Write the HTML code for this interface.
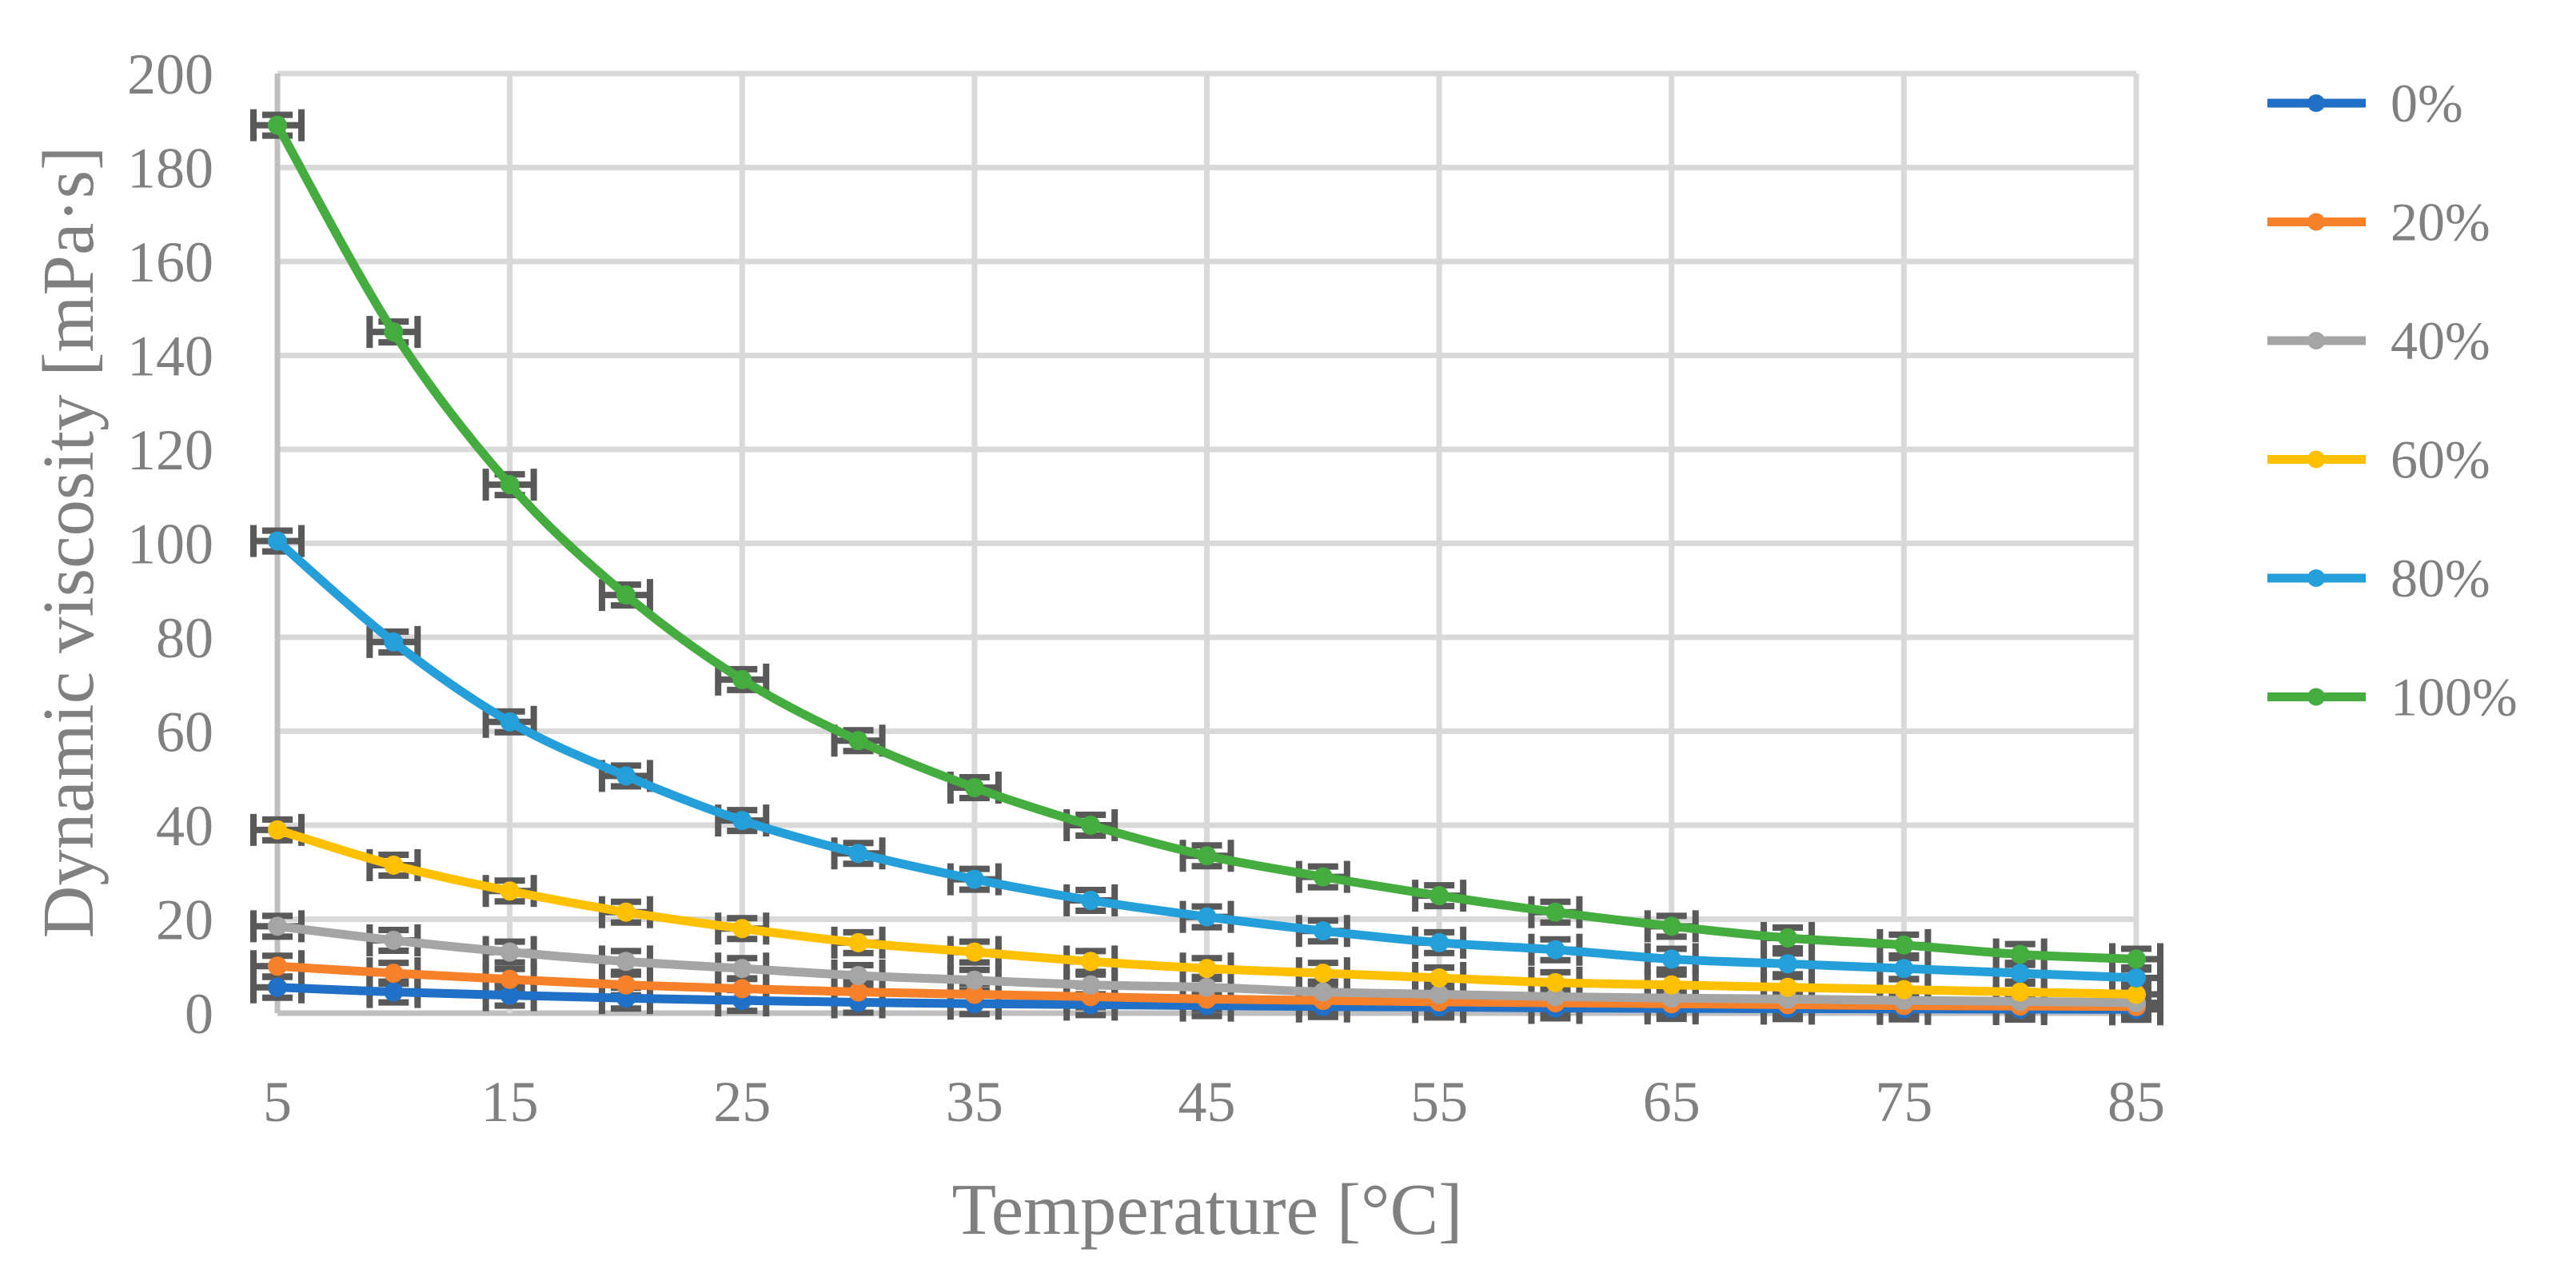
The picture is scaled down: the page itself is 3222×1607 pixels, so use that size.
<!DOCTYPE html>
<html><head><meta charset="utf-8"><style>
html,body{margin:0;padding:0;background:#fff;}
svg text{font-family:"Liberation Serif",serif;fill:#808080;}
</style></head><body>
<svg id="chart" width="3222" height="1602" viewBox="0 0 3222 1602" xmlns="http://www.w3.org/2000/svg">
<g id="grid"></g>
<g id="axes"></g>
<g id="series"></g>
<g id="legend"></g>
<text x="0" y="0" font-size="91" text-anchor="middle" transform="translate(116,678) rotate(-90)">Dynamic viscosity [mPa·s]</text>
<text x="1510" y="1543" font-size="91" text-anchor="middle">Temperature [°C]</text>
</svg>
<script>
const temps=[5,10,15,20,25,30,35,40,45,50,55,60,65,70,75,80,85];
const xTicks=[5,15,25,35,45,55,65,75,85];
const yTicks=[0,20,40,60,80,100,120,140,160,180,200];
const seriesNames=["0%","20%","40%","60%","80%","100%"];
const seriesColors=["#1f70c6","#f7802a","#a5a5a5","#ffc000","#249fd9","#45ad3f"];
const s0=[5.5,4.5,3.8,3.2,2.7,2.3,2,1.8,1.6,1.4,1.3,1.1,1,0.95,0.9,0.85,0.8];
const s20=[10,8.5,7.2,6,5.2,4.5,4,3.5,3,2.7,2.4,2.2,2,1.8,1.6,1.5,1.4];
const s40=[18.5,15.5,13,11,9.5,8,7,6,5.5,4.5,4,3.5,3.2,3,2.7,2.5,2.2];
const s60=[39,31.5,26,21.5,18,15,13,11,9.5,8.5,7.5,6.5,6,5.5,5,4.5,4];
const s80=[100.5,79,62,50.5,41,34,28.5,24,20.5,17.5,15,13.5,11.5,10.5,9.5,8.5,7.5];
const s100=[189,145,112.5,89,71,58,48,40,33.5,29,25,21.5,18.5,16,14.5,12.5,11.5];
const allSeries=[s0,s20,s40,s60,s80,s100];

const NS="http://www.w3.org/2000/svg";
const X0=347,X1=2672,Y0=1267,Y1=92;
const xs=v=>X0+(v-5)/80*(X1-X0);
const ys=v=>Y0-v/200*(Y0-Y1);
function mk(tag,attrs,parent){const e=document.createElementNS(NS,tag);for(const k in attrs)e.setAttribute(k,attrs[k]);parent.appendChild(e);return e;}
const grid=document.getElementById('grid'),axes=document.getElementById('axes'),ser=document.getElementById('series'),leg=document.getElementById('legend');
yTicks.forEach(t=>{
  const l=mk('line',{x1:X0,x2:X1,y1:ys(t),y2:ys(t),stroke:t===0?'#bfbfbf':'#d9d9d9','stroke-width':7},grid);
  
  
  const tx=mk('text',{x:267,y:ys(t)+25,'font-size':72,'text-anchor':'end'},axes);
  tx.textContent=t;
  
  
});
xTicks.forEach(t=>{
  const l=mk('line',{x1:xs(t),x2:xs(t),y1:Y1,y2:Y0,stroke:t===5?'#bfbfbf':'#d9d9d9','stroke-width':7},grid);
  
  
  const tx=mk('text',{x:xs(t),y:1402,'font-size':72,'text-anchor':'middle'},axes);
  tx.textContent=t;
  
  
});
function smooth(pts){
  let d=`M${pts[0][0]},${pts[0][1]}`;
  for(let i=0;i<pts.length-1;i++){
    const p0=pts[i-1]||pts[i],p1=pts[i],p2=pts[i+1],p3=pts[i+2]||p2;
    const c1=[p1[0]+(p2[0]-p0[0])/6,p1[1]+(p2[1]-p0[1])/6];
    const c2=[p2[0]-(p3[0]-p1[0])/6,p2[1]-(p3[1]-p1[1])/6];
    d+=` C${c1[0]},${c1[1]} ${c2[0]},${c2[1]} ${p2[0]},${p2[1]}`;
  }
  return d;
}
allSeries.forEach((vals,si)=>{
  const g=mk('g',{},ser);
  
  
  vals.forEach((v,i)=>{
    const cx=xs(temps[i]),cy=ys(v),hw=30,vh=13,cap=20;
    const d=`M${cx-hw},${cy}H${cx+hw}M${cx-hw},${cy-cap}V${cy+cap}M${cx+hw},${cy-cap}V${cy+cap}M${cx},${cy-vh}V${cy+vh}M${cx-19},${cy-vh}H${cx+19}M${cx-19},${cy+vh}H${cx+19}`;
    const p=mk('path',{d:d,stroke:'#595959','stroke-width':8,fill:'none'},g);
    
    
  });
});
allSeries.forEach((vals,si)=>{
  const col=seriesColors[si];
  const g=mk('g',{},ser);
  
  
  const pts=vals.map((v,i)=>[xs(temps[i]),ys(v)]);
  const p=mk('path',{d:smooth(pts),stroke:col,'stroke-width':11,fill:'none'},g);
  
  
  pts.forEach(pt=>{
    const c=mk('circle',{cx:pt[0],cy:pt[1],r:12,fill:col},g);
    
    
  });
  const ly=129+si*148.5;
  const lg=mk('g',{},leg);
  
  
  mk('line',{x1:2836,x2:2959,y1:ly,y2:ly,stroke:col,'stroke-width':11},lg);
  mk('circle',{cx:2897,cy:ly,r:11,fill:col},lg);
  const t=mk('text',{x:2990,y:ly+23,'font-size':68},lg);
  t.textContent=seriesNames[si];
});
</script>
</body></html>
